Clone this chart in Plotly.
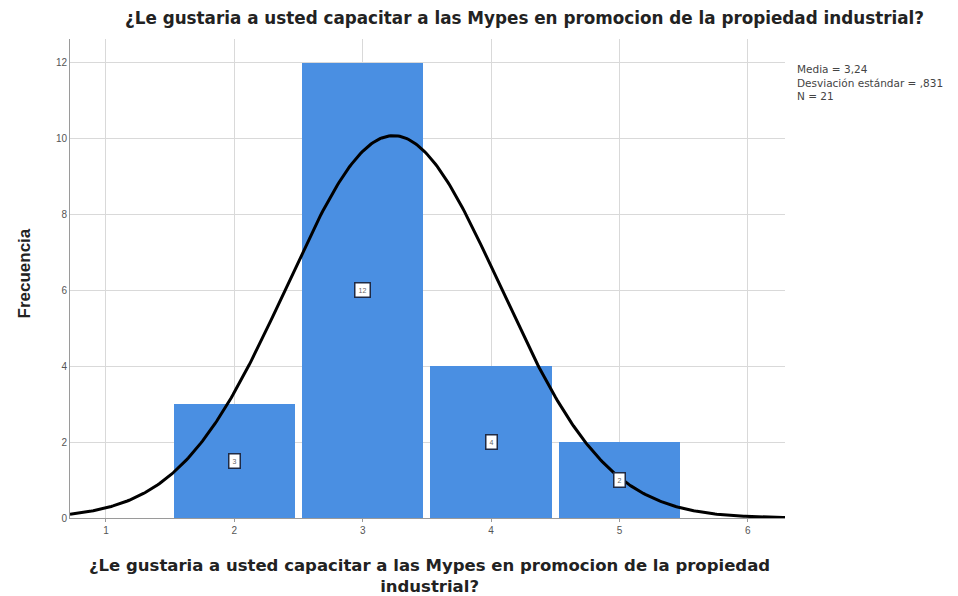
import numpy as np
import plotly.graph_objects as go

categories = [2, 3, 4, 5]
frequencies = [3, 12, 4, 2]
mean_val = 3.24
std_val = 0.831
n_val = 21
x_ticks = [1, 2, 3, 4, 5, 6]
y_ticks = [0, 2, 4, 6, 8, 10, 12]
title_text = "¿Le gustaria a usted capacitar a las Mypes en promocion de la propiedad industrial?"
xaxis_lines = ["¿Le gustaria a usted capacitar a las Mypes en promocion de la propiedad", "industrial?"]
stats_lines = ["Media = 3,24", "Desviación estándar = ,831", "N = 21"]

FONT = "Liberation Sans, Arial, sans-serif"
WIDEFONT = "DejaVu Sans, Verdana, sans-serif"

# fitted normal curve (bin width 1)
xs = np.linspace(0.72, 6.29, 400)
ys = n_val * 1.0 / (std_val * np.sqrt(2 * np.pi)) * np.exp(-0.5 * ((xs - mean_val) / std_val) ** 2)

fig = go.Figure()
fig.add_trace(go.Bar(
    x=categories, y=frequencies, width=0.945,
    marker=dict(color="#4a8fe2", line=dict(width=0)),
    hoverinfo="x+y", showlegend=False,
))
fig.add_trace(go.Scatter(
    x=xs, y=ys, mode="lines", line=dict(color="black", width=3),
    showlegend=False, hoverinfo="skip",
))

for c, f in zip(categories, frequencies):
    fig.add_annotation(
        x=c, y=f / 2, text=str(f), showarrow=False,
        font=dict(family=FONT, size=7, color="#666"),
        bgcolor="white", bordercolor="#1f2a44", borderwidth=1.5, borderpad=3,
    )

fig.add_annotation(
    xref="paper", yref="y", x=1.016, y=11.47, xanchor="left", yanchor="middle",
    text="<br>".join(stats_lines), showarrow=False, align="left", borderpad=0,
    font=dict(family=WIDEFONT, size=10.5, color="#444"),
)

fig.add_annotation(
    xref="paper", yref="paper", x=0.636, y=1.0, xanchor="center", yanchor="middle",
    yshift=21, text="<b>" + title_text + "</b>", showarrow=False,
    font=dict(family=WIDEFONT, size=16.8, color="#222"),
)
fig.add_annotation(
    xref="paper", yref="paper", x=0.503, y=0.0, xanchor="center", yanchor="middle",
    yshift=-58, text="<b>" + "<br>".join(xaxis_lines) + "</b>", showarrow=False,
    font=dict(family=WIDEFONT, size=16.5, color="#222"),
)
fig.add_annotation(
    xref="paper", yref="paper", x=-0.064, y=0.511, xanchor="center", yanchor="middle",
    textangle=-90, text="<b>Frecuencia</b>", showarrow=False,
    font=dict(family=FONT, size=17, color="#222"),
)

fig.update_layout(
    width=958, height=596,
    margin=dict(l=62, r=181, t=31, b=86),
    paper_bgcolor="white", plot_bgcolor="white",
    font=dict(family=FONT, size=10, color="#444"),
    bargap=0,
    xaxis=dict(
        range=[0.72, 6.29], tickvals=x_ticks, ticktext=[str(t) for t in x_ticks],
        showgrid=True, gridcolor="#d9d9d9", gridwidth=1,
        showline=True, linecolor="#9a9a9a", linewidth=1,
        ticks="outside", ticklen=3, tickcolor="#9a9a9a",
        tickfont=dict(size=10, color="#555"), zeroline=False,
    ),
    yaxis=dict(
        range=[0, 12.63], tickvals=y_ticks, ticktext=[str(t) for t in y_ticks],
        showgrid=True, gridcolor="#d9d9d9", gridwidth=1,
        showline=True, linecolor="#9a9a9a", linewidth=1,
        ticks="", tickfont=dict(size=10, color="#555"), zeroline=False,
    ),
)

fig.write_html("out.html")
